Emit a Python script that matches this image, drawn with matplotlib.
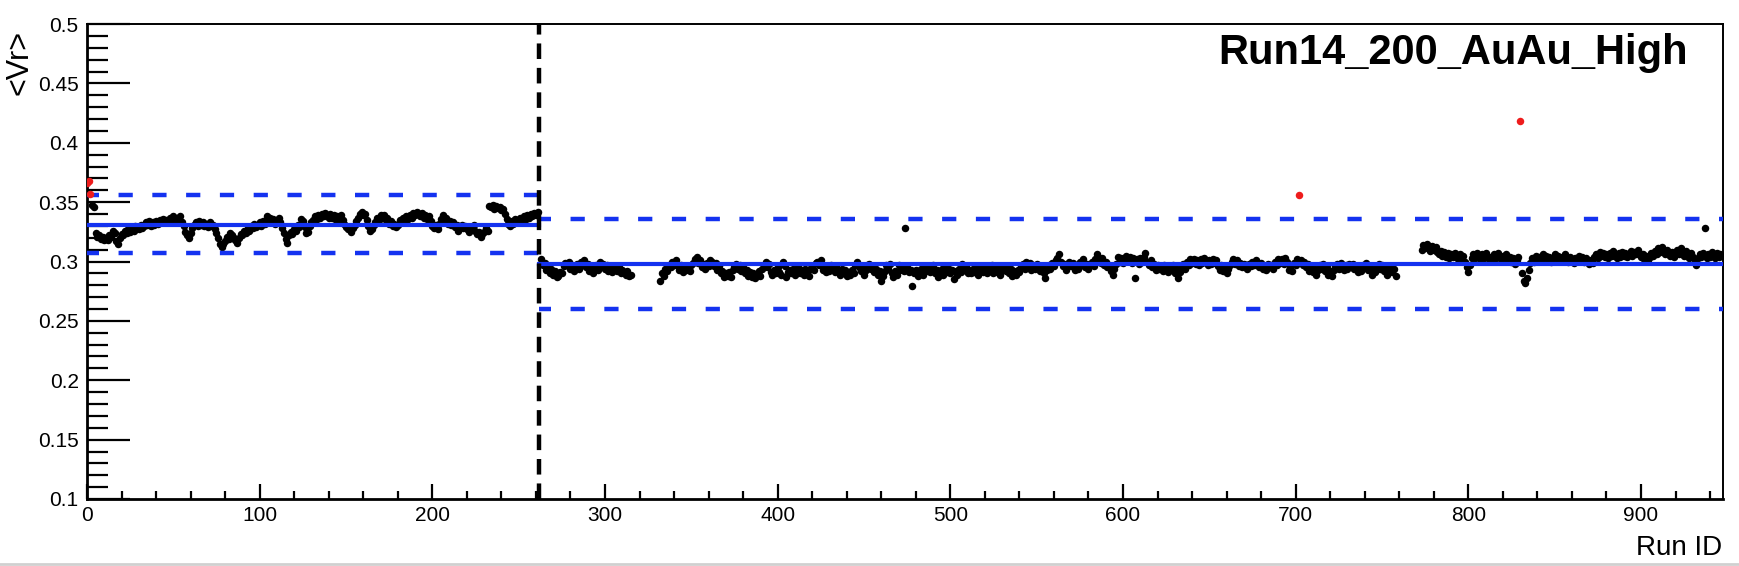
#!/usr/bin/env python3
"""Run-by-run QA: <Vr> per run ID, Run14 200 GeV AuAu (High), with mean and band lines."""
import matplotlib as mpl
import matplotlib.pyplot as plt
import numpy as np
from matplotlib.lines import Line2D
from matplotlib.ticker import FuncFormatter, MultipleLocator

mpl.rcParams.update({
    "font.family": ["Liberation Sans", "DejaVu Sans"],
    "font.size": 13,
})

# ---- data (values in units of 1e-3) ----
# first period: run IDs 0..261
left_start = 0
left_mv = [
    366, 368, 357, 348, 346, 324, 321, 322, 319, 321, 318,
    320, 318, 322, 321, 326, 324, 317, 315, 320, 323,
    322, 326, 324, 327, 325, 329, 326, 330, 328, 327,
    331, 328, 330, 333, 331, 334, 330, 333, 331, 334,
    332, 335, 333, 336, 334, 335, 333, 337, 335, 338,
    335, 337, 334, 338, 333, 330, 325, 322, 320, 324,
    328, 331, 333, 330, 334, 331, 333, 330, 332, 329,
    333, 330, 331, 327, 324, 320, 315, 312, 315, 317,
    321, 319, 324, 322, 320, 318, 316, 320, 323, 322,
    326, 324, 328, 326, 330, 328, 332, 329, 331, 333,
    330, 334, 332, 338, 335, 337, 333, 336, 332, 335,
    337, 333, 328, 324, 319, 316, 322, 325, 323, 327,
    326, 331, 329, 336, 334, 329, 324, 325, 330, 333,
    335, 338, 336, 339, 337, 340, 338, 341, 339, 337,
    340, 337, 339, 335, 338, 336, 339, 335, 332, 329,
    327, 329, 325, 328, 331, 334, 337, 340, 342, 339,
    340, 335, 330, 326, 327, 331, 333, 337, 335, 339,
    337, 339, 335, 337, 332, 334, 330, 332, 329, 331,
    335, 333, 337, 335, 338, 336, 339, 337, 341, 339,
    342, 340, 338, 341, 337, 339, 336, 338, 334, 330,
    328, 331, 327, 332, 336, 339, 335, 337, 332, 334,
    331, 333, 329, 331, 326, 329, 331, 328, 330, 327,
    325, 329, 327, 331, 326, 323, 325, 321, 323, 325,
    328, 326, 347, 346, 348, 344, 347, 345, 346, 343,
    344, 340, 336, 332, 330, 334, 332, 336, 333, 335,
    337, 334, 338, 336, 339, 337, 340, 338, 341, 339, 342,
]

# second period, block A: run IDs 263..315
right_a_start = 263
right_a_mv = [
    302, 297, 299, 293, 295, 290, 294, 289, 292, 287,
    288, 291, 290, 296, 299, 297, 300, 294, 297, 292,
    295, 298, 294, 300, 297, 301, 295, 298, 292, 294,
    290, 295, 297, 293, 300, 296, 298, 294, 297, 292,
    295, 291, 294, 296, 292, 295, 290, 293, 291, 289, 292, 288, 289,
]

# second period, block B: run IDs 332..758
right_b_start = 332
right_b_mv = [
    284, 290, 288, 294, 292, 297, 295, 300, 297, 301,
    296, 293, 297, 291, 295, 293, 296, 292, 297, 299,
    302, 304, 299, 301, 295, 298, 294, 299, 296, 301,
    300, 296, 299, 293, 296, 290, 292, 287, 290, 288,
    291, 287, 293, 295, 298, 294, 297, 292, 295, 290,
    293, 288, 291, 287, 290, 286, 289, 292, 288, 294,
    296, 300, 295, 298, 291, 289, 293, 290, 295, 291,
    289, 300, 296, 287, 291, 293, 290, 294, 289, 292,
    295, 290, 293, 289, 294, 291, 288, 294, 296, 293,
    299, 300, 297, 301, 293, 296, 291, 295, 292, 297,
    294, 291, 296, 292, 289, 294, 290, 293, 288, 291,
    289, 293, 290, 297, 300, 295, 292, 296, 289, 293,
    297, 298, 294, 296, 291, 294, 289, 292, 284, 288,
    292, 297, 294, 298, 290, 287, 292, 289, 297, 293,
    296, 292, 328, 295, 291, 293, 279, 290, 293, 288,
    291, 294, 289, 295, 292, 296, 291, 294, 297, 290,
    293, 287, 290, 294, 289, 295, 291, 294, 290, 293,
    285, 292, 289, 294, 291, 298, 293, 296, 290, 293,
    290, 294, 291, 295, 289, 293, 296, 291, 294, 290,
    295, 292, 297, 290, 294, 291, 295, 289, 293, 296,
    292, 295, 290, 294, 288, 292, 289, 293, 291, 296,
    298, 294, 300, 296, 299, 293, 297, 294, 298, 295,
    292, 296, 290, 286, 293, 297, 294, 299, 296, 301,
    303, 306, 300, 296, 298, 293, 297, 300, 296, 299,
    293, 297, 294, 300, 297, 302, 295, 298, 294, 297,
    300, 296, 302, 306, 301, 299, 303, 297, 300, 295,
    297, 292, 289, 294, 298, 304, 300, 303, 299, 302,
    305, 301, 304, 299, 303, 286, 302, 298, 303, 300,
    304, 307, 300, 297, 301, 295, 298, 293, 297, 294,
    296, 292, 297, 294, 291, 296, 293, 297, 290, 294,
    286, 291, 295, 298, 294, 300, 297, 302, 299, 302,
    298, 301, 297, 302, 299, 303, 300, 297, 301, 298,
    302, 299, 301, 296, 293, 297, 292, 295, 290, 294,
    297, 300, 302, 298, 301, 296, 299, 295, 298, 297,
    294, 298, 296, 300, 297, 301, 298, 295, 299, 294,
    296, 293, 298, 295, 297, 294, 300, 297, 302, 299,
    302, 298, 303, 300, 293, 296, 292, 299, 297, 302,
    356,
    301, 297, 300, 295, 298, 292, 296, 291, 294, 289,
    293, 297, 294, 298, 292, 295, 289, 292, 288, 293,
    296, 298, 294, 299, 296, 293, 297, 294, 298, 295,
    298, 294, 296, 291, 295, 292, 297, 295, 299, 293,
    295, 289, 293, 291, 296, 298, 294, 297, 292, 295,
    289, 293, 296, 291, 294, 288,
]

# second period, block C: run IDs 773..947
right_c_start = 773
right_c_mv = [
    310, 314, 311, 315, 312, 309, 313, 310, 312, 308,
    306, 309, 305, 308, 304, 307, 303, 306, 304, 307,
    305, 302, 306, 303, 305, 300, 295, 291, 297, 303,
    306, 303, 307, 304, 302, 306, 303, 307, 305, 302,
    304, 301, 306, 303, 307, 304, 302, 305, 303, 306,
    302, 304, 300, 303, 298, 301, 304,
    418,
    290, 284, 282, 286, 293, 299, 303, 300, 305, 302,
    304, 301, 306, 303, 305, 302, 304, 300, 303, 306,
    303, 305, 301, 304, 302, 306, 303, 300, 304, 302,
    299, 303, 301, 305, 302, 304, 300, 303, 301, 298,
    301, 299, 304, 306, 303, 308, 305, 307, 304, 306,
    303, 307, 305, 309, 306, 303, 307, 304, 308, 305,
    307, 304, 306, 309, 305, 308, 306, 310, 307, 304,
    306, 302, 305, 301, 304, 307, 305, 309, 306, 311,
    308, 312, 309, 306, 310, 307, 305, 308, 304, 307,
    310, 306, 311, 308, 305, 309, 306, 303, 307, 304,
    301, 297, 303, 306, 304, 307, 328, 303, 306, 304,
    308, 305, 303, 307, 304, 306, 305,
]

# period boundary, mean and band for each period
split_run = 262
left_mean, left_lo, left_hi = 0.3310, 0.3074, 0.3556
right_mean, right_lo, right_hi = 0.2977, 0.2596, 0.3357

x_max = 947.5
y_min, y_max = 0.1, 0.5


def block(start, mv):
    return np.arange(start, start + len(mv)), np.asarray(mv) / 1000.0


def main() -> None:
    xl, yl = block(left_start, left_mv)
    xr = []
    yr = []
    for s, mv in ((right_a_start, right_a_mv), (right_b_start, right_b_mv),
                  (right_c_start, right_c_mv)):
        a, b = block(s, mv)
        xr.append(a)
        yr.append(b)
    xr = np.concatenate(xr)
    yr = np.concatenate(yr)

    fig = plt.figure(figsize=(17.40, 5.66), dpi=100)
    ax = fig.add_axes([87 / 1740, 1 - 499 / 566, 1636 / 1740, 475 / 566])

    blue = "#1432f0"
    # mean lines (solid) and bands (dashed)
    ax.plot([0, split_run], [left_mean] * 2, color=blue, lw=3.0, zorder=3)
    ax.plot([split_run, x_max], [right_mean] * 2, color=blue, lw=3.0, zorder=3)
    for lo, hi, x0, x1 in ((left_lo, left_hi, 0, split_run),
                           (right_lo, right_hi, split_run, x_max)):
        for yv in (lo, hi):
            ax.plot([x0, x1], [yv, yv], color=blue, lw=3.2,
                    linestyle=(0.5, (3.2, 4.4)), zorder=3)

    # points: red if outside the band of their period
    out_l = (yl > left_hi) | (yl < left_lo)
    out_r = (yr > right_hi) | (yr < right_lo)
    x_all = np.concatenate([xl, xr])
    y_all = np.concatenate([yl, yr])
    out = np.concatenate([out_l, out_r])
    ax.plot(x_all[~out], y_all[~out], "o", color="black", ms=5.4, mew=0, zorder=2)
    ax.plot(x_all[out], y_all[out], "o", color="#ee1c1c", ms=5.4, mew=0, zorder=4)

    # period boundary
    ax.plot([split_run, split_run], [y_min, y_max], color="black", lw=3.2,
            linestyle=(0, (3.5, 2.0)), zorder=5)

    ax.set_xlim(0, x_max)
    ax.set_ylim(y_min, y_max)
    ax.xaxis.set_major_locator(MultipleLocator(100))
    ax.xaxis.set_minor_locator(MultipleLocator(20))
    ax.yaxis.set_major_locator(MultipleLocator(0.05))
    ax.yaxis.set_minor_locator(MultipleLocator(0.01))
    ax.yaxis.set_major_formatter(FuncFormatter(lambda v, p: f"{v:g}"))
    ax.tick_params(axis="both", which="both", direction="in", width=1.6,
                   labelsize=15, top=False, right=False)
    ax.tick_params(axis="y", which="major", length=31, pad=6)
    ax.tick_params(axis="y", which="minor", length=15)
    ax.tick_params(axis="x", which="major", length=11, pad=5)
    ax.tick_params(axis="x", which="minor", length=5.5)
    ax.spines["left"].set_linewidth(2.0)
    ax.spines["bottom"].set_linewidth(2.0)
    ax.spines["top"].set_linewidth(1.4)
    ax.spines["right"].set_linewidth(1.4)

    fig.text(1688 / 1740, 1 - 53 / 566, "Run14_200_AuAu_High", ha="right",
             va="center", fontsize=30, fontweight="bold")
    fig.text(1722 / 1740, 1 - 555 / 566, "Run ID", ha="right", va="baseline",
             fontsize=20)
    fig.text(20 / 1740, 1 - 30 / 566, "<Vr>", rotation=90, ha="center",
             va="top", fontsize=22)

    # thin grey edge at the bottom of the screenshot
    fig.add_artist(Line2D([0, 1], [2 / 566, 2 / 566], transform=fig.transFigure,
                          color="#d0d0d0", lw=2))

    fig.savefig("out.png", dpi=100)
    plt.close(fig)


if __name__ == "__main__":
    main()
